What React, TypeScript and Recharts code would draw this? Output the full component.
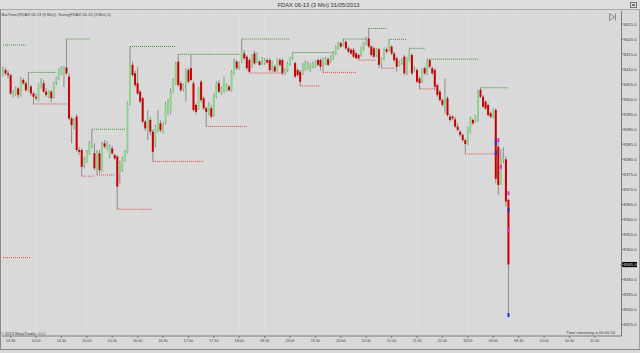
import React from 'react';
import { ComposedChart, Bar, XAxis, YAxis, ReferenceLine, ReferenceDot, CartesianGrid } from 'recharts';

// 3-minute FDAX 06-13 bars, index 0 = 13:21 (30/05), session break after index 173 (22:00)
const opens = [
  8408.6, 8409.7, 8408.6, 8408.0, 8401.4, 8401.9, 8403.6, 8401.4, 8406.4, 8405.3,
  8403.0, 8404.2, 8401.9, 8400.8, 8399.7, 8404.2, 8405.3, 8402.5, 8400.8, 8402.5,
  8400.8, 8405.3, 8407.0, 8408.6, 8408.6, 8410.5, 8407.5, 8393.6, 8390.8, 8394.2,
  8383.1, 8383.1, 8378.1, 8379.2, 8382.0, 8384.2, 8382.0, 8376.4, 8382.0, 8376.4,
  8385.3, 8383.6, 8381.0, 8383.6, 8381.4, 8380.9, 8375.3, 8376.4, 8379.8, 8382.5,
  8398.6, 8411.4, 8408.6, 8405.3, 8402.5, 8400.3, 8392.5, 8389.7, 8393.1, 8389.2,
  8385.3, 8389.7, 8392.0, 8389.2, 8392.5, 8395.3, 8395.8, 8402.5, 8405.3, 8412.5,
  8405.3, 8403.6, 8404.7, 8409.7, 8410.3, 8405.3, 8398.1, 8397.0, 8405.8, 8400.3,
  8397.0, 8395.3, 8397.0, 8394.7, 8400.8, 8405.3, 8401.9, 8402.5, 8403.0, 8404.2,
  8403.0, 8408.6, 8412.5, 8410.3, 8412.5, 8415.2, 8414.1, 8413.0, 8410.8, 8415.2,
  8412.5, 8412.5, 8411.9, 8411.9, 8413.0, 8413.0, 8409.7, 8410.8, 8409.7, 8413.0,
  8413.0, 8408.6, 8409.7, 8411.4, 8413.6, 8412.0, 8409.7, 8409.1, 8408.6, 8410.0,
  8410.3, 8409.7, 8410.8, 8410.8, 8413.0, 8413.0, 8411.4, 8411.9, 8413.3, 8412.5,
  8413.6, 8415.2, 8416.9, 8418.6, 8418.0, 8419.1, 8416.9, 8416.4, 8416.4, 8415.2,
  8414.7, 8414.7, 8416.4, 8418.6, 8420.2, 8417.5, 8416.9, 8414.7, 8416.6, 8411.9,
  8413.6, 8416.6, 8416.4, 8417.5, 8415.2, 8413.6, 8411.4, 8411.9, 8414.1, 8408.6,
  8413.0, 8414.7, 8409.7, 8409.7, 8406.9, 8405.8, 8410.3, 8408.6, 8413.0, 8410.3,
  8409.7, 8404.7, 8402.5, 8399.7, 8397.5, 8400.3, 8394.2, 8394.2, 8393.3, 8390.9,
  8389.2, 8388.1, 8386.4, 8385.3, 8389.2, 8393.1, 8392.5, 8393.1, 8403.1, 8400.8,
  8399.2, 8398.1, 8395.3, 8394.2, 8396.4, 8384.2, 8372.0, 8379.8, 8380.0, 8366.5,
];
const highs = [
  8410.8, 8410.5, 8409.5, 8408.5, 8403.0, 8404.2, 8404.0, 8407.5, 8407.0, 8405.8,
  8408.9, 8404.7, 8402.5, 8401.9, 8405.3, 8406.9, 8406.4, 8403.6, 8403.0, 8403.0,
  8405.8, 8407.5, 8410.3, 8411.0, 8411.0, 8420.0, 8408.6, 8394.2, 8393.6, 8395.0,
  8384.0, 8383.6, 8380.9, 8383.1, 8386.0, 8390.0, 8385.3, 8383.1, 8383.1, 8385.8,
  8386.4, 8386.0, 8385.0, 8384.5, 8382.0, 8381.4, 8379.5, 8381.0, 8383.1, 8399.2,
  8417.5, 8412.5, 8409.5, 8410.8, 8403.0, 8400.8, 8393.0, 8396.4, 8394.0, 8390.0,
  8391.5, 8396.4, 8393.0, 8392.5, 8399.0, 8400.0, 8403.6, 8406.9, 8412.5, 8414.9,
  8406.0, 8405.3, 8410.3, 8410.3, 8414.7, 8406.0, 8398.6, 8404.0, 8406.4, 8401.0,
  8397.5, 8399.0, 8398.0, 8402.0, 8406.0, 8406.4, 8404.2, 8407.5, 8405.3, 8404.7,
  8409.7, 8413.6, 8413.0, 8412.5, 8420.0, 8416.4, 8414.7, 8413.6, 8415.0, 8416.0,
  8415.5, 8413.0, 8414.1, 8413.6, 8413.6, 8413.6, 8412.8, 8411.4, 8413.6, 8413.6,
  8413.6, 8410.3, 8412.5, 8414.1, 8415.5, 8412.5, 8410.3, 8409.7, 8412.0, 8412.8,
  8412.5, 8412.0, 8412.5, 8413.0, 8413.6, 8413.6, 8413.8, 8414.1, 8413.8, 8414.7,
  8416.0, 8418.0, 8419.1, 8419.1, 8420.0, 8419.5, 8417.5, 8417.0, 8417.0, 8415.8,
  8415.2, 8417.5, 8419.1, 8420.8, 8423.6, 8418.0, 8417.5, 8417.0, 8417.0, 8414.0,
  8417.2, 8417.2, 8419.9, 8418.0, 8415.8, 8414.1, 8412.8, 8413.6, 8414.7, 8414.1,
  8416.9, 8415.2, 8411.0, 8410.3, 8407.5, 8410.3, 8410.8, 8413.3, 8413.3, 8410.8,
  8410.3, 8405.3, 8403.1, 8400.3, 8406.9, 8401.0, 8395.0, 8394.7, 8394.0, 8392.0,
  8389.8, 8388.6, 8386.9, 8390.9, 8394.2, 8393.6, 8394.7, 8403.1, 8403.8, 8401.4,
  8399.7, 8398.6, 8395.8, 8397.0, 8397.0, 8386.0, 8383.5, 8384.0, 8381.0, 8367.0,
];
const lows = [
  8407.5, 8407.8, 8407.0, 8401.4, 8400.5, 8401.0, 8400.3, 8400.8, 8404.7, 8402.5,
  8402.5, 8401.0, 8398.4, 8399.5, 8399.2, 8403.6, 8402.0, 8400.8, 8400.3, 8399.0,
  8400.3, 8404.7, 8406.4, 8408.0, 8404.0, 8408.0, 8393.0, 8385.3, 8390.0, 8382.5,
  8381.4, 8374.4, 8377.0, 8378.7, 8381.4, 8383.6, 8376.4, 8374.8, 8375.3, 8375.8,
  8383.6, 8383.0, 8380.3, 8381.4, 8379.8, 8363.4, 8372.0, 8375.8, 8379.2, 8382.0,
  8398.0, 8407.5, 8404.0, 8401.4, 8398.6, 8392.0, 8389.5, 8386.4, 8388.0, 8379.3,
  8384.0, 8389.0, 8389.0, 8388.5, 8391.5, 8394.7, 8395.0, 8402.0, 8404.7, 8404.2,
  8402.5, 8402.5, 8399.2, 8405.3, 8406.0, 8395.8, 8395.0, 8396.5, 8399.0, 8396.4,
  8390.9, 8394.7, 8393.6, 8394.2, 8400.3, 8402.0, 8401.4, 8402.0, 8402.5, 8402.5,
  8402.5, 8408.0, 8409.7, 8409.7, 8412.0, 8413.0, 8409.7, 8408.7, 8410.3, 8411.4,
  8412.0, 8411.0, 8411.4, 8411.4, 8411.9, 8409.1, 8409.1, 8408.9, 8409.1, 8410.8,
  8408.0, 8408.0, 8409.1, 8411.0, 8413.0, 8407.0, 8407.5, 8404.4, 8408.0, 8409.5,
  8409.7, 8409.1, 8410.3, 8410.3, 8411.0, 8409.5, 8408.9, 8411.4, 8411.0, 8412.0,
  8413.0, 8414.7, 8416.4, 8417.0, 8417.5, 8416.4, 8415.2, 8414.7, 8413.6, 8413.3,
  8413.0, 8414.1, 8416.0, 8418.0, 8417.0, 8414.1, 8413.6, 8414.1, 8410.3, 8410.5,
  8413.0, 8415.2, 8415.8, 8414.7, 8412.5, 8409.1, 8410.8, 8411.4, 8408.0, 8408.0,
  8412.5, 8408.0, 8409.1, 8405.3, 8403.4, 8405.3, 8408.0, 8408.0, 8410.3, 8408.0,
  8403.0, 8400.8, 8399.2, 8397.5, 8395.3, 8394.2, 8392.5, 8393.0, 8390.3, 8389.2,
  8387.5, 8385.8, 8381.8, 8384.7, 8388.6, 8391.4, 8392.0, 8392.5, 8400.3, 8397.0,
  8396.4, 8394.2, 8393.6, 8393.6, 8372.0, 8368.1, 8371.5, 8378.6, 8364.2, 8328.8,
];
const closes = [
  8409.7, 8408.6, 8408.0, 8401.9, 8402.5, 8403.6, 8401.4, 8406.4, 8405.3, 8403.0,
  8404.2, 8401.9, 8400.8, 8400.3, 8404.7, 8405.8, 8402.5, 8401.4, 8402.5, 8400.3,
  8405.3, 8406.9, 8409.7, 8410.3, 8410.3, 8408.6, 8393.6, 8391.4, 8392.5, 8383.1,
  8382.5, 8377.5, 8379.8, 8382.5, 8385.3, 8385.3, 8377.0, 8382.0, 8376.4, 8384.8,
  8384.2, 8384.8, 8384.2, 8382.0, 8380.3, 8370.9, 8378.7, 8380.3, 8382.5, 8398.6,
  8411.4, 8408.0, 8404.7, 8401.9, 8399.2, 8392.5, 8390.3, 8393.6, 8389.2, 8382.5,
  8390.8, 8393.6, 8389.7, 8391.4, 8398.1, 8399.2, 8402.5, 8405.8, 8411.4, 8404.7,
  8403.0, 8404.7, 8409.7, 8405.8, 8406.4, 8396.4, 8395.8, 8403.6, 8399.7, 8397.0,
  8395.8, 8398.1, 8394.2, 8401.4, 8405.3, 8402.5, 8403.6, 8406.9, 8404.7, 8403.0,
  8409.1, 8412.5, 8410.3, 8411.9, 8415.8, 8413.6, 8410.3, 8409.1, 8414.4, 8411.9,
  8414.7, 8411.4, 8413.6, 8413.0, 8412.2, 8409.7, 8412.2, 8409.2, 8413.0, 8411.4,
  8408.6, 8409.7, 8411.9, 8413.6, 8415.2, 8407.5, 8408.0, 8405.8, 8411.4, 8412.2,
  8411.9, 8411.4, 8411.9, 8412.5, 8411.4, 8410.8, 8413.3, 8413.6, 8411.4, 8414.1,
  8415.2, 8417.5, 8418.6, 8417.5, 8419.4, 8416.9, 8415.8, 8415.2, 8414.1, 8413.6,
  8413.6, 8416.9, 8418.6, 8420.2, 8417.5, 8414.7, 8414.1, 8416.6, 8411.4, 8413.6,
  8416.6, 8415.8, 8419.1, 8415.2, 8413.0, 8410.8, 8412.2, 8413.0, 8408.6, 8413.6,
  8415.8, 8408.6, 8410.3, 8405.8, 8405.3, 8409.7, 8408.6, 8412.5, 8410.8, 8408.6,
  8404.2, 8401.4, 8399.7, 8398.1, 8400.3, 8394.7, 8393.1, 8393.6, 8390.9, 8389.8,
  8388.1, 8386.4, 8385.1, 8390.3, 8393.6, 8392.0, 8394.2, 8402.5, 8400.8, 8397.5,
  8396.9, 8394.7, 8394.2, 8396.4, 8373.5, 8371.5, 8379.8, 8380.3, 8366.0, 8345.0,
];

// total bar slots on the time axis (includes empty slots to the right)
const slotCount = 244;

const tickIndex = [3, 13, 23, 33, 43, 53, 63, 73, 83, 93, 103, 113, 123, 133, 143, 153, 163, 173, 183, 193, 203, 213, 223, 233];
const tickLabels = ['13:30', '14:00', '14:30', '15:00', '15:30', '16:00', '16:30', '17:00', '17:30', '18:00', '18:30', '19:00', '19:30', '20:00', '20:30', '21:00', '21:30', '22:00', '31/05', '09:00', '09:30', '10:00', '10:30', '11:00'];

const priceTicks = [8325, 8330, 8335, 8340, 8345, 8350, 8355, 8360, 8365, 8370, 8375, 8380, 8385, 8390, 8395, 8400, 8405, 8410, 8415, 8420, 8425];

// swing lines: [fromIndex, toIndex, price]
const swingHighs = [
  [0, 9, 8418.0], [10, 21, 8408.9], [25, 34, 8420.0], [35, 48, 8390.0], [50, 68, 8417.5],
  [69, 93, 8414.9], [94, 113, 8420.0], [114, 130, 8415.5], [134, 143, 8420.0], [144, 151, 8423.5],
  [152, 159, 8419.9], [160, 166, 8416.9], [167, 187, 8413.3], [188, 199, 8403.8],
];
const swingLows = [
  [0, 11, 8347.3], [12, 25, 8398.4], [31, 36, 8374.4], [37, 44, 8374.8], [45, 59, 8363.4],
  [59, 79, 8379.3], [80, 96, 8390.9], [97, 110, 8408.7], [117, 125, 8404.4], [126, 139, 8408.9],
  [140, 147, 8413.0], [149, 154, 8410.3], [164, 170, 8403.4], [182, 194, 8381.8],
];

const blueMarks = [[194, 8385.5], [194, 8382.2], [199, 8363.1], [199, 8328.2]];
const magentaMarks = [[195, 8386.4], [196, 8377.5], [199, 8368.7], [199, 8356.3]];

const lastClose = closes[closes.length - 1];

const FONT = '"Liberation Sans", Arial, sans-serif';
const UP = '#8fd28f';
const DOWN = '#c80000';
const WICK = '#8c8c8c';

const chartData = Array.from({ length: slotCount }, (_, i) => ({
  i,
  o: opens[i],
  h: highs[i],
  l: lows[i],
  c: closes[i],
}));

const labelFor = (v: number) => {
  const k = tickIndex.indexOf(v);
  return k >= 0 ? tickLabels[k] : '';
};

const Candle = (props: any) => {
  const { x, y, width, height, payload } = props;
  if (!payload || payload.o == null || !isFinite(y) || !isFinite(height)) return null;
  const { o, h, l, c } = payload;
  const top = Math.min(y, y + height);
  const bot = Math.max(y, y + height);
  const span = h - l || 1;
  const py = (v: number) => top + ((h - v) / span) * (bot - top);
  const cx = x + width / 2;
  const bTop = py(Math.max(o, c));
  const bBot = py(Math.min(o, c));
  const bh = Math.max(1, bBot - bTop);
  return (
    <g>
      <line x1={cx} x2={cx} y1={top} y2={bot} stroke={WICK} strokeWidth={1} />
      <rect x={cx - 1} y={bTop} width={2} height={bh} fill={c >= o ? UP : DOWN} />
    </g>
  );
};

const PriceTag = (props: any) => {
  const vb = props.viewBox || {};
  const xr = (vb.x || 0) + (vb.width || 0);
  const yy = vb.y || 0;
  return (
    <g>
      <polygon points={`${xr - 1},${yy} ${xr + 1.5},${yy - 2.6} ${xr + 1.5},${yy + 2.6}`} fill="#000" />
      <rect x={xr + 1.5} y={yy - 2.6} width={14} height={5.2} fill="#000" />
      <text x={xr + 2.2} y={yy + 1.6} fontSize={4.3} fill="#fff" fontFamily={FONT}>
        {lastClose.toFixed(1)}
      </text>
    </g>
  );
};

const markShape = (color: string) => (p: any) => (
  <rect x={p.cx - 1} y={p.cy - 2} width={2} height={4} fill={color} />
);

export default function App() {
  return (
    <div
      style={{
        position: 'absolute',
        left: 0,
        top: 0,
        width: 640,
        height: 353,
        background: '#d9d9d9',
        overflow: 'hidden',
        fontFamily: FONT,
      }}
    >
      <ComposedChart width={640} height={353} data={chartData} margin={{ top: 11, right: 0, bottom: 0, left: 1.73 }}>
        <CartesianGrid horizontal={false} vertical stroke="#dedede" strokeWidth={1} />
        <XAxis
          dataKey="i"
          type="category"
          ticks={tickIndex}
          interval={0}
          tickFormatter={labelFor}
          height={17}
          tickSize={2}
          tickMargin={1.3}
          axisLine={{ stroke: '#7a7a7a' }}
          tickLine={{ stroke: '#7a7a7a' }}
          tick={{ fontSize: 3.7, fill: '#444', fontFamily: FONT }}
        />
        <YAxis
          orientation="right"
          type="number"
          domain={[8321.24, 8429.32]}
          allowDataOverflow
          ticks={priceTicks}
          interval={0}
          tickFormatter={(v: number) => v.toFixed(1)}
          width={18.5}
          tickSize={1.8}
          tickMargin={0.2}
          axisLine={{ stroke: '#7a7a7a' }}
          tickLine={{ stroke: '#7a7a7a' }}
          tick={{ fontSize: 4.3, fill: '#444', fontFamily: FONT }}
        />
        <Bar
          dataKey={(d: any) => (d.h == null ? null : [d.l, d.h])}
          shape={(p: any) => <Candle {...p} />}
          isAnimationActive={false}
        />
        {swingHighs.map(([s, e, v], k) => (
          <ReferenceLine
            key={`sh${k}`}
            segment={[{ x: s, y: v }, { x: e, y: v }]}
            stroke="#3f8a3f"
            strokeWidth={1}
            strokeDasharray="1 1"
          />
        ))}
        {swingLows.map(([s, e, v], k) => (
          <ReferenceLine
            key={`sl${k}`}
            segment={[{ x: s, y: v }, { x: e, y: v }]}
            stroke="#e04848"
            strokeWidth={1}
            strokeDasharray="1 1"
          />
        ))}
        {blueMarks.map(([i, v], k) => (
          <ReferenceDot key={`b${k}`} x={i} y={v} shape={markShape('#1f2fe0')} />
        ))}
        {magentaMarks.map(([i, v], k) => (
          <ReferenceDot key={`m${k}`} x={i} y={v} shape={markShape('#e030d8')} />
        ))}
        <ReferenceLine y={lastClose} stroke="none" label={(p: any) => <PriceTag {...p} />} />
      </ComposedChart>
      <svg
        width={640}
        height={353}
        style={{ position: 'absolute', left: 0, top: 0, pointerEvents: 'none' }}
      >
        <rect x={0} y={0} width={640} height={9.5} fill="#dedede" />
        <line x1={0} x2={640} y1={9.5} y2={9.5} stroke="#a9a9a9" />
        <text x={318.5} y={7.2} fontSize={5.8} fill="#333" textAnchor="middle" fontFamily={FONT}>
          FDAX 06-13 (3 Min)  31/05/2013
        </text>
        <rect x={630.5} y={2.5} width={6} height={5} fill="none" stroke="#777" />
        <rect x={632} y={4} width={3} height={2} fill="#777" />
        <text x={1.5} y={16} fontSize={4} fill="#444" fontFamily={FONT}>
          BarTimer(FDAX 06-13 (3 Min)), Swing(FDAX 06-13 (3 Min),5)
        </text>
        <polygon points="609.5,13.5 609.5,20.5 614.5,17" fill="none" stroke="#7a7a7a" strokeWidth={0.8} />
        <line x1={615.5} x2={615.5} y1={13.5} y2={20.5} stroke="#7a7a7a" strokeWidth={0.8} />
        <text x={0.5} y={335.3} fontSize={4.1} fill="#444" fontFamily={FONT}>
          © 2013 NinjaTrader, LLC
        </text>
        <text x={615} y={334.3} fontSize={4.1} fill="#444" textAnchor="end" fontFamily={FONT}>
          Time remaining = 00:00:10
        </text>
        <line x1={0.5} x2={0.5} y1={9.5} y2={349.5} stroke="#8a8a8a" />
        <line x1={639.5} x2={639.5} y1={9.5} y2={349.5} stroke="#a0a0a0" />
        <line x1={0} x2={640} y1={349.5} y2={349.5} stroke="#8a8a8a" />
      </svg>
    </div>
  );
}
